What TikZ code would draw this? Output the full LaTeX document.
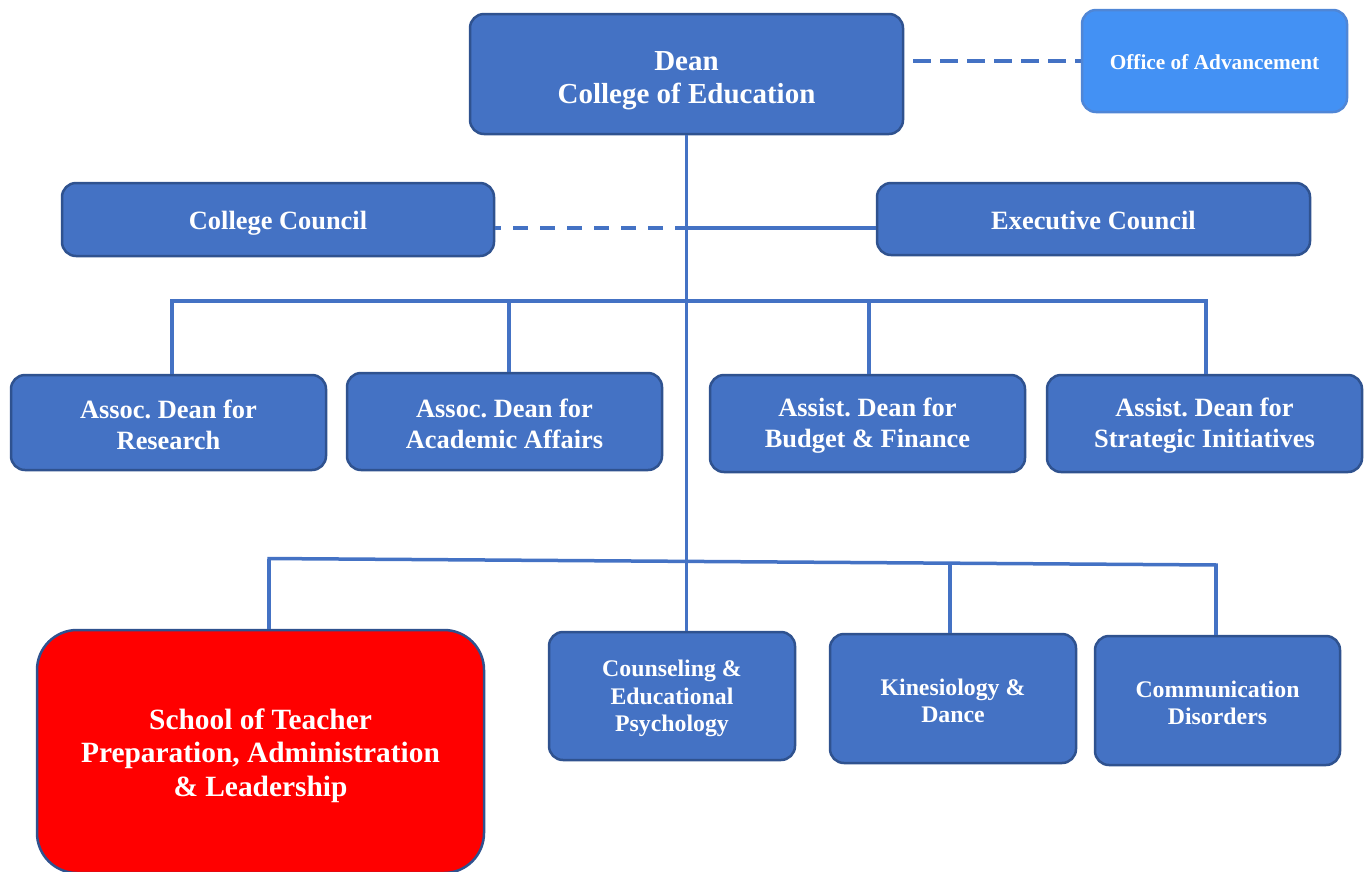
\documentclass[tikz,border=0pt]{standalone}
\usepackage{fontspec}
\setmainfont{Liberation Serif}
\usetikzlibrary{calc}
\definecolor{boxblue}{HTML}{4472C4}
\definecolor{boxedge}{HTML}{2F528F}
\definecolor{lightblue}{HTML}{4391F4}
\definecolor{lightedge}{HTML}{4F86D6}
\definecolor{linkblue}{HTML}{4472C4}
\definecolor{schoolred}{HTML}{FF0000}
\frenchspacing
\begin{document}
\begin{tikzpicture}[x=1pt,y=-1pt,
  unit/.style={draw=boxedge, line width=2.5pt, fill=boxblue, rounded corners=14pt, inner sep=0pt},
  lbl/.style={text=white, align=center, inner sep=0pt},
  bigtext/.style={font=\bfseries\fontsize{29}{33}\selectfont},
  midtext/.style={font=\bfseries\fontsize{26.4}{31}\selectfont},
  smalltext/.style={font=\bfseries\fontsize{23.8}{27.5}\selectfont},
  link/.style={draw=linkblue, line width=3.5pt},
]
\useasboundingbox (0,0) rectangle (1367,871);

% top level
\node[unit, minimum width=433pt, minimum height=120pt,
  label={[lbl, bigtext, yshift=-7pt]center:{Dean\\College of Education}}] (dean) at (686.5,74) {};
\node[unit, fill=lightblue, draw=lightedge, minimum width=265pt, minimum height=102pt,
  label={[lbl, font=\bfseries\fontsize{21.3}{25}\selectfont, yshift=-1pt]center:{Office of Advancement}}]
  (office) at (1214.5,61) {};

% councils
\node[unit, minimum width=432pt, minimum height=73pt,
  label={[lbl, midtext, yshift=-4pt]center:{College Council}}] (council) at (278,219.5) {};
\node[unit, minimum width=433pt, minimum height=72pt,
  label={[lbl, midtext, yshift=-1pt]center:{Executive Council}}] (exec) at (1093.5,219) {};

% deans
\node[unit, minimum width=315pt, minimum height=95pt,
  label={[lbl, midtext, yshift=-2pt]center:{Assoc. Dean for\\Research}}] (resr) at (168.5,422.5) {};
\node[unit, minimum width=315pt, minimum height=97pt,
  label={[lbl, midtext, yshift=-2pt]center:{Assoc. Dean for\\Academic Affairs}}] (acad) at (504.5,421.5) {};
\node[unit, minimum width=315pt, minimum height=97pt,
  label={[lbl, midtext, yshift=-2pt]center:{Assist. Dean for\\Budget \& Finance}}] (budget) at (867.5,423.5) {};
\node[unit, minimum width=315pt, minimum height=97pt,
  label={[lbl, midtext, yshift=-2pt]center:{Assist. Dean for\\Strategic Initiatives}}] (strat) at (1204.5,423.5) {};

% schools and departments
\node[unit, fill=schoolred, rounded corners=40pt, minimum width=447pt, minimum height=243pt,
  label={[lbl, font=\bfseries\fontsize{29.4}{33.5}\selectfont, yshift=-4pt]center:{School of Teacher\\Preparation, Administration\\\& Leadership}}]
  (school) at (260.5,751.5) {};
\node[unit, minimum width=246pt, minimum height=128pt,
  label={[lbl, smalltext, yshift=-2.5pt]center:{Counseling \&\\Educational\\Psychology}}] (couns) at (672,696) {};
\node[unit, minimum width=246pt, minimum height=129pt,
  label={[lbl, smalltext, yshift=-2.5pt]center:{Kinesiology \&\\Dance}}] (kin) at (953,698.5) {};
\node[unit, minimum width=245pt, minimum height=129pt,
  label={[lbl, smalltext, yshift=-2.5pt]center:{Communication\\Disorders}}] (comm) at (1217.5,700.5) {};

% dashed and solid links beside the dean and councils
\draw[link, dash pattern=on 18pt off 9pt, dash phase=18pt] (dean.east |- office.west) -- (office.west);
\coordinate (cc) at (687,228);
\draw[link, dash pattern=on 15pt off 12pt, dash phase=9pt] (council.east |- cc) -- (cc);
\draw[link] (cc) -- (exec.west |- cc);

% trunk
\draw[link] (dean.south) -- (dean.south |- couns.north);

% upper bar to the deans
\coordinate (u1) at (172,301);
\coordinate (u2) at (509,301);
\coordinate (u3) at (869,301);
\coordinate (u4) at (1206,301);
\draw[link] ([xshift=-1.75pt]u1) -- ([xshift=1.75pt]u4);
\draw[link] (u1) -- (u1 |- resr.north);
\draw[link] (u2) -- (u2 |- acad.north);
\draw[link] (u3) -- (u3 |- budget.north);
\draw[link] (u4) -- (u4 |- strat.north);

% lower bar to the schools
\coordinate (l1) at (269,558.5);
\coordinate (l3) at (950,563);
\coordinate (l4) at (1216,565);
\draw[link] ([xshift=-1.75pt]l1) -- ([xshift=1.75pt]l4);
\draw[link] (l1) -- (l1 |- school.north);
\draw[link] (l3) -- (l3 |- kin.north);
\draw[link] (l4) -- (l4 |- comm.north);
\end{tikzpicture}
\end{document}
